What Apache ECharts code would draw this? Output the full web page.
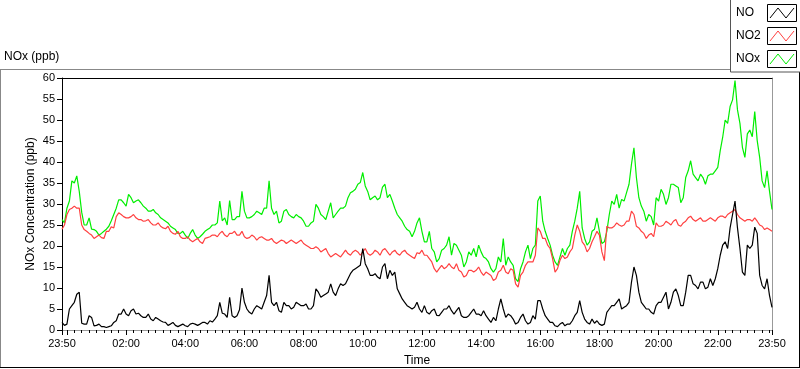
<!DOCTYPE html>
<html><head><meta charset="utf-8">
<script src="https://cdn.jsdelivr.net/npm/echarts@6/dist/echarts.min.js"></script>
<style>html,body{margin:0;padding:0;background:#fff}#c{width:800px;height:369px}</style>
</head><body><div id="c"></div>
<script>
// Time grid: minutes since midnight. First sample 23:50 of previous day.
// "...OnTen" arrays: samples at 23:50, 00:00, 00:10 ... 23:50 (every 10 min)
// "...Mid" arrays: samples 5 minutes after each of those (23:55, 00:05 ... 23:45)
const startMinute = -10;
const stepMinutes = 5;

const noOnTen = [
  1.8, 1.4, 5.8, 8.5, 1.6, 1.4, 3, 1.1, 0.8, 0.6,
  1, 2.2, 3.8, 3.8, 4.6, 3.8, 3.4, 3, 2.6, 3,
  2.2, 1.8, 1.4, 1.1, 1.1, 1, 1.4, 1.4, 1.4, 1.8,
  2.2, 2.6, 6.6, 3.8, 7.8, 3, 4.8,
  6.6, 4.2, 5, 5.4, 6.6, 13, 5.8, 4.6, 6.6, 5.8,
  5.4, 6.2, 5.8, 5, 5.8, 9, 8.2, 9, 9, 9.8,
  10.6, 12.2, 14.2, 15, 19.4, 14.6, 13, 12.6, 15, 12.2,
  13, 9.8, 7.4, 5.8, 5, 6.6,
  4.2, 4.2, 4.6, 3.5, 4.2, 5, 4.6, 4.6, 3.4, 3,
  4.2, 3.8, 3.4, 3.4, 1.8, 2.2, 7.4, 3, 3.4, 1.4,
  3, 2.2, 1.8, 2.6, 7, 3.4, 1.8, 1, 1.4, 1,
  1.4, 3.4, 7, 2.6, 1.4, 1.6,
  1.4, 1.4, 5, 5.8, 7.4, 5.4, 6.6, 15, 9, 5.8,
  5, 3.8, 6.6, 7.8, 5, 9, 8.2, 5.8, 13, 11,
  9.8, 11.4, 10.2, 10.6, 14.6, 20.2, 19.4, 27.5, 24.3, 13.8,
  20.2, 20.2, 23, 10.6, 12.2, 5.4
];
const noMid = [
  1.1, 5, 6.6, 9, 1.4, 3.4, 1, 1.4, 0.8, 0.8,
  1.8, 3.8, 5, 3.4, 5, 4, 3, 3.8, 2.2, 2.6,
  1.9, 1.1, 1.8, 0.8, 1.4, 0.8, 1.6, 1.1, 1.8, 1.4,
  1.9, 3.4, 4, 3, 3.4, 3.4,
  10, 5, 3.8, 5.8, 5, 8.2, 6.6, 6.6, 4.2, 5.8,
  5, 6.6, 5.8, 6.2, 5, 9.8, 7.8, 8.6, 11, 8.2,
  11, 11, 13.4, 14.6, 15.4, 15.8, 13, 13.4, 12.2, 15.8,
  14.2, 13.8, 8.6, 6.6, 5.4, 5.4,
  5, 5.8, 3.8, 5, 3.4, 5, 5.8, 3.8, 5.4, 3,
  3.4, 5, 3.8, 4.6, 2.6, 3, 5, 5, 3.8, 2.6,
  1.8, 3.8, 1.4, 3.4, 7, 5, 2.6, 1.8, 0.8, 1.8,
  1.4, 2.2, 4.2, 4.2, 1.8, 2.6,
  2.2, 1.1, 4.2, 5.8, 6.6, 5, 5.8, 11.4, 13, 6.6,
  5, 4.2, 5.8, 6.6, 9, 6.6, 9.8, 5.8, 9, 13,
  10.6, 11.4, 9.8, 12.2, 12.2, 17.8, 21, 24.3, 30.7, 19.4,
  13, 19.4, 24.5, 13, 9.8, 8.2
];
const no2OnTen = [
  24, 27.5, 29, 29, 25, 23.5, 22.6, 22.2, 22, 23.5,
  24.6, 27, 27.5, 26.7, 27, 26.7, 26.3, 26, 25.5, 25,
  24.7, 24.1, 23.5, 22.8, 22.2, 21.8, 21.4, 21.4, 21, 21.8,
  22.2, 22.6, 23, 22.6, 23, 23.5, 22.6,
  22.2, 22, 22.2, 22, 21.8, 21.4, 21, 21, 21.2, 21,
  21, 21, 20.6, 19.8, 19.4, 19.4, 19, 18.2, 17.8, 17.8,
  18.2, 18.2, 18.6, 18.6, 18.6, 18.2, 18.2, 18.6, 19, 18.6,
  18.6, 18.2, 18.6, 18.2, 17.4, 18.4,
  19, 17.8, 16.2, 13.8, 15.4, 15, 15, 15.8, 13.8, 13,
  14.2, 14.2, 13.8, 13.8, 13, 12.2, 14.2, 13.8, 14.6, 11,
  13, 15.4, 16.2, 17.8, 23.5, 21.8, 19.4, 13.8, 16.6, 17,
  18.6, 22.6, 23.5, 20.2, 19.4, 22.2,
  22.6, 16.5, 24.3, 24.7, 25, 25, 25.9, 27.5, 24.3, 23,
  22.6, 22.2, 24.7, 25, 25.5, 25.9, 25, 25.5, 26.7, 26.3,
  26.3, 25.9, 26.3, 26.3, 26.7, 27.1, 27.5, 28.3, 27.5, 26.3,
  26.3, 25.9, 25.9, 24.7, 24.3, 23.5
];
const no2Mid = [
  25, 28.7, 29.5, 29, 23.9, 23, 21.8, 22.6, 21.8, 23.5,
  24.3, 27.9, 27, 26.7, 27.5, 26.3, 25.9, 26.3, 25, 25.5,
  24.3, 24.7, 23, 23.5, 21.8, 22.2, 21, 21.8, 20.6, 22,
  22.6, 22.2, 23.5, 22.2, 23, 22.6,
  23.5, 21.8, 22.6, 21.4, 22.2, 21.4, 21.8, 20.6, 21.4, 20.6,
  21.4, 20.6, 21.4, 20.2, 19.4, 19.8, 18.6, 19.4, 17.4, 18.2,
  17.4, 19, 17.8, 19, 17.8, 19.4, 17.8, 19, 17.8, 19.4,
  17.8, 19, 17.8, 19, 17.8, 17,
  18.2, 17.8, 17, 14.6, 14.6, 14.6, 15.8, 14.6, 14.2, 12.6,
  14.2, 13.8, 15, 13, 13.4, 11.8, 13.8, 15.4, 13.4, 14.2,
  10.2, 13.8, 16.2, 16.2, 24.3, 21.8, 20.2, 17, 14.6, 17.8,
  17.4, 19.4, 25, 21, 18.6, 21,
  23.5, 18.6, 24.7, 24.3, 25.5, 24.7, 25.9, 28.3, 24.7, 23.5,
  21.8, 23, 25.5, 24.7, 25.9, 25, 26.3, 24.7, 25.9, 27.1,
  25.9, 26.7, 25.9, 26.7, 25.9, 27.1, 26.7, 27.9, 28.7, 26.7,
  25.9, 26.3, 26.7, 25, 23.9, 23.9
];
const noxOnTen = [
  26.3, 29, 35.5, 36.7, 28, 25, 24, 23.5, 23, 24,
  26, 29, 31, 29.5, 31.5, 30.7, 30.3, 29, 28.3, 27.9,
  26.7, 25.9, 24.7, 23.9, 23, 22.6, 23, 22.6, 22.2, 23.5,
  24.3, 25, 30.7, 26.7, 30.8, 26.3, 27,
  28.3, 26.7, 27.5, 27.9, 29, 35.5, 27.5, 25.5, 28.3, 27.5,
  26.7, 27, 25.9, 24.7, 25.9, 29, 27, 28.3, 26.7, 28.3,
  29, 31.5, 33, 34.7, 37.5, 33, 31.5, 31, 34, 31.5,
  30.7, 27.5, 25.9, 23.9, 22.2, 25.5,
  23.5, 21, 19.4, 16.2, 19, 20.2, 17.8, 20.2, 17.8, 16.2,
  17.8, 17.4, 18.6, 17, 14.6, 14.6, 16.2, 15.4, 16.2, 12.2,
  14.6, 18.6, 17, 20.2, 31.9, 23.5, 20.2, 16.2, 17.4, 17.8,
  20.2, 25.9, 33, 21.8, 21, 24,
  23.5, 21, 27.5, 29.9, 29, 30.7, 34.7, 43.4, 31.5, 28.3,
  27.5, 25, 30.7, 32.3, 31.5, 34.7, 33.9, 31.5, 37.9, 37.1,
  35.5, 36.3, 36.7, 37.1, 38.7, 45.9, 49.2, 54.8, 52.4, 43.5,
  46.7, 46, 45.1, 35.5, 37.9, 28.7
];
const noxMid = [
  25.5, 30.7, 35, 33, 25, 26.7, 23.9, 22.6, 23.5, 24.7,
  27.5, 31, 30.3, 32.3, 30.3, 31, 29.5, 28.3, 28.7, 27.5,
  26.3, 25.5, 24.3, 23, 23.5, 21.8, 23.9, 21.8, 22.8, 23.9,
  25, 25.5, 26, 25, 26.3, 27,
  33, 26.7, 27, 28.3, 27.5, 29, 29, 28.3, 25.9, 28.7,
  27, 27.5, 26.7, 24.7, 25.5, 29.9, 27.5, 26.3, 30.3, 27.5,
  29, 29.5, 32.7, 33.5, 35.1, 34.3, 31, 31.9, 31.5, 34.7,
  32.3, 29, 26.7, 24.7, 23.5, 23.5,
  26.7, 21, 23.5, 18.6, 17, 19.4, 22.2, 20.6, 19, 15,
  18.6, 19.4, 20.2, 17.4, 16.2, 13.8, 17.4, 21.8, 17.4, 15.4,
  11.5, 16.2, 20.2, 19.4, 30.7, 25.9, 21.8, 17.8, 15.4, 19.4,
  19.4, 23.5, 29, 24.3, 20.2, 23.5,
  26.7, 20.6, 23.5, 30.7, 32.3, 31.1, 32.7, 39.5, 36.3, 29.5,
  25.9, 27, 31.5, 33.5, 29.9, 34.7, 34.3, 30.3, 36.3, 40.3,
  36.3, 37.1, 34.7, 37.1, 37.9, 42.7, 50, 53.2, 59.4, 49.2,
  41.1, 47.6, 52, 41.1, 33.9, 33
];

// Axis ticks (minutes since midnight)
const xMin = -10, xMax = 1430;
const majorTicks = [-10, 0, 120, 240, 360, 480, 600, 720, 840, 960, 1080, 1200, 1320, 1430];
const xLabelTicks = [-10, 120, 240, 360, 480, 600, 720, 840, 960, 1080, 1200, 1320, 1430];
const minorStep = 15;

const seriesNames = ['NO', 'NO2', 'NOx'];
const seriesColors = ['#000000', '#ff4040', '#00ee00'];

function merged(onTen, mid) {
  const out = [];
  for (let i = 0; i < onTen.length; i++) {
    out.push(onTen[i]);
    if (i < mid.length) out.push(mid[i]);
  }
  return out.map((v, i) => [startMinute + i * stepMinutes, v]);
}
function fmtTime(v) {
  const m = ((Math.round(v) % 1440) + 1440) % 1440;
  const h = Math.floor(m / 60), mm = m % 60;
  return String(h).padStart(2, '0') + ':' + String(mm).padStart(2, '0');
}
const minorTicks = [];
for (let t = 0; t < xMax; t += minorStep) if (majorTicks.indexOf(t) < 0) minorTicks.push(t);

const FONT = 'Liberation Sans, Arial, sans-serif';
const chart = echarts.init(document.getElementById('c'), null, {renderer: 'canvas'});

const legendGraphics = [];
legendGraphics.push({type: 'rect', shape: {x: 730.5, y: -2, width: 80, height: 74}, style: {fill: '#fff', stroke: '#555', lineWidth: 1}, z: 10});
seriesNames.forEach((n, i) => {
  const cy = 13 + i * 23;
  legendGraphics.push({type: 'text', x: 736, y: cy, style: {text: n, font: '12px ' + FONT, fill: '#000', verticalAlign: 'middle'}, z: 11});
  legendGraphics.push({type: 'rect', shape: {x: 767.5, y: cy - 8.5, width: 29, height: 17}, style: {fill: '#fff', stroke: '#000', lineWidth: 1}, z: 11});
  legendGraphics.push({type: 'polyline', shape: {points: [[770, cy + 5], [778, cy - 5], [786, cy + 5], [794, cy - 5]]}, style: {stroke: seriesColors[i], lineWidth: 1, fill: null}, z: 12});
});

chart.setOption({
  animation: false,
  backgroundColor: '#fff',
  grid: {left: 62, right: 28, top: 78, bottom: 39, show: false, containLabel: false, outerBoundsMode: 'none'},
  xAxis: [
    {
      type: 'value', min: xMin, max: xMax, position: 'bottom',
      name: 'Time', nameLocation: 'middle', nameGap: 25, nameMoveOverlap: false,
      nameTextStyle: {fontFamily: FONT, fontSize: 12, color: '#000'},
      axisLine: {show: true, onZero: false, lineStyle: {color: '#999', width: 1}},
      axisTick: {show: true, length: 5, customValues: majorTicks, lineStyle: {color: '#000'}},
      axisLabel: {show: true, customValues: xLabelTicks, formatter: fmtTime, fontFamily: FONT, fontSize: 11, color: '#000', margin: 8},
      splitLine: {show: false}
    },
    {
      type: 'value', min: xMin, max: xMax, position: 'bottom', gridIndex: 0,
      axisLine: {show: false, onZero: false},
      axisTick: {show: true, length: 3, customValues: minorTicks, lineStyle: {color: '#000'}},
      axisLabel: {show: false},
      splitLine: {show: false}
    },
    {
      type: 'value', min: xMin, max: xMax, position: 'top',
      axisLine: {show: true, onZero: false, lineStyle: {color: '#000', width: 1}},
      axisTick: {show: false}, axisLabel: {show: false}, splitLine: {show: false}
    }
  ],
  yAxis: [
    {
      type: 'value', min: 0, max: 60, interval: 5, position: 'left',
      name: 'NOx Concentration (ppb)', nameLocation: 'middle', nameGap: 25, nameRotate: 90, nameMoveOverlap: false,
      nameTextStyle: {fontFamily: FONT, fontSize: 12, color: '#000'},
      axisLine: {show: true, onZero: false, lineStyle: {color: '#000', width: 1}},
      axisTick: {show: true, length: 5, lineStyle: {color: '#000'}},
      axisLabel: {fontFamily: FONT, fontSize: 11, color: '#000', margin: 7},
      splitLine: {show: false}
    },
    {
      type: 'value', min: 0, max: 60, position: 'right',
      axisLine: {show: true, onZero: false, lineStyle: {color: '#999', width: 1}},
      axisTick: {show: false}, axisLabel: {show: false}, splitLine: {show: false}
    }
  ],
  series: [
    {name: 'NOx', type: 'line', data: merged(noxOnTen, noxMid), showSymbol: false, symbol: 'none', lineStyle: {color: seriesColors[2], width: 1.2}, z: 2},
    {name: 'NO2', type: 'line', data: merged(no2OnTen, no2Mid), showSymbol: false, symbol: 'none', lineStyle: {color: seriesColors[1], width: 1.2}, z: 3},
    {name: 'NO', type: 'line', data: merged(noOnTen, noMid), showSymbol: false, symbol: 'none', lineStyle: {color: seriesColors[0], width: 1.2}, z: 4}
  ],
  graphic: [
    {type: 'text', x: 4, y: 57, style: {text: 'NOx (ppb)', font: '12px ' + FONT, fill: '#000', verticalAlign: 'middle'}},
    {type: 'line', shape: {x1: 0, y1: 69.5, x2: 730, y2: 69.5}, style: {stroke: '#888', lineWidth: 1}},
    {type: 'line', shape: {x1: 0.5, y1: 69.5, x2: 0.5, y2: 367}, style: {stroke: '#888', lineWidth: 1}},
    {type: 'line', shape: {x1: 0, y1: 367.5, x2: 800, y2: 367.5}, style: {stroke: '#000', lineWidth: 1}},
    {type: 'line', shape: {x1: 799.5, y1: 72, x2: 799.5, y2: 368}, style: {stroke: '#000', lineWidth: 1}}
  ].concat(legendGraphics)
});
</script>
</body></html>
